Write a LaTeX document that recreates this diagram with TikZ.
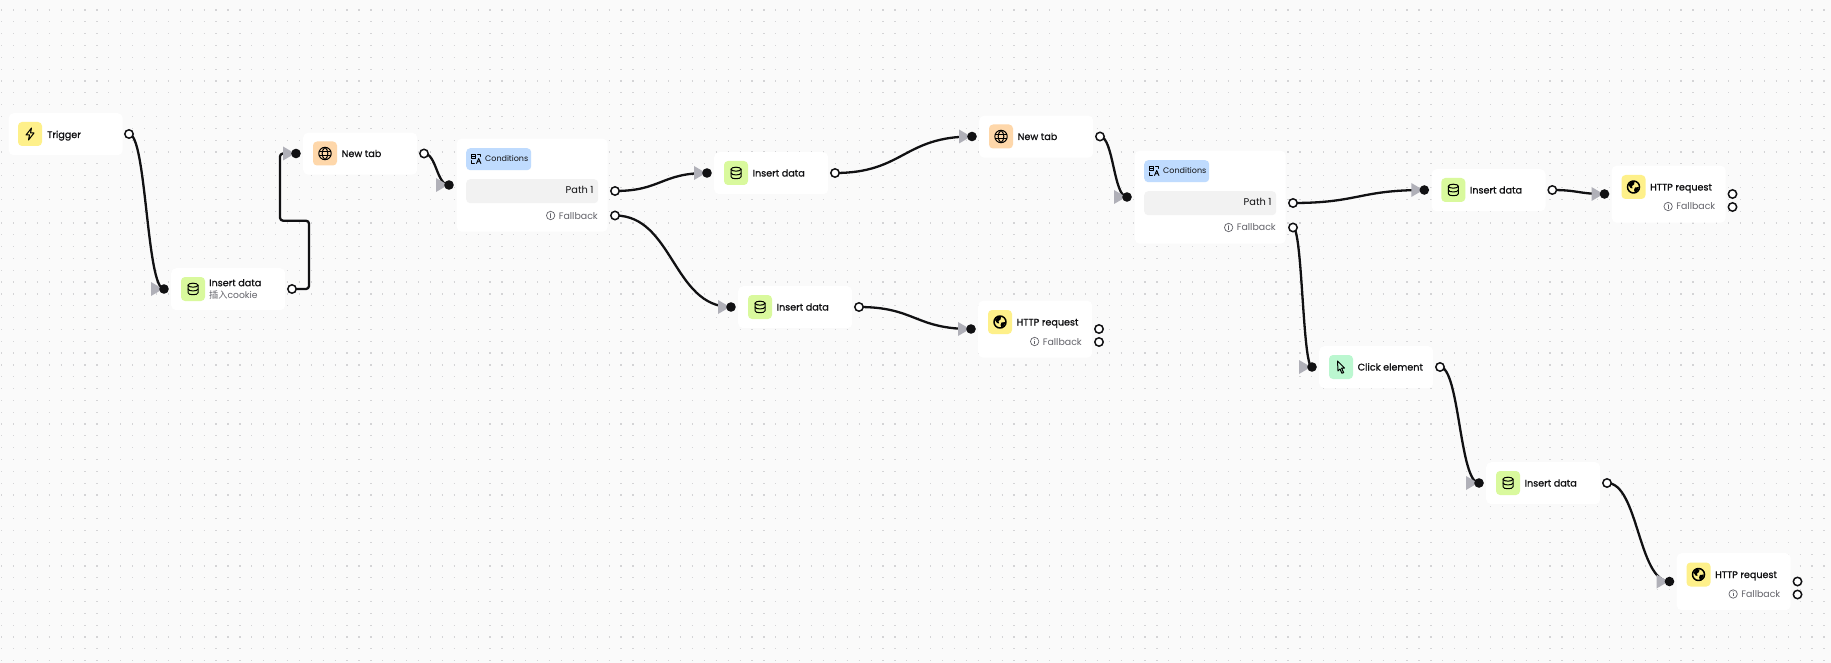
\documentclass[tikz,border=0pt]{standalone}
\usepackage{fontspec}
\usetikzlibrary{calc}
\setmainfont{Poppins}
\newfontfamily\titlefont[FakeBold=0.8]{Poppins}
\newfontfamily\cjk{Noto Sans CJK SC}
\definecolor{canvasbg}{HTML}{FAFAFA}
\definecolor{griddot}{HTML}{D4D4D6}
\definecolor{inktext}{HTML}{111113}
\definecolor{softtext}{HTML}{63636A}
\definecolor{tipgray}{HTML}{B0B0B8}
\definecolor{iconyellow}{HTML}{FEF08A}
\definecolor{icongreen}{HTML}{D9F99D}
\definecolor{iconorange}{HTML}{FED7AA}
\definecolor{iconmint}{HTML}{BBF7D0}
\definecolor{badgeblue}{HTML}{BFDBFE}
\definecolor{rowgray}{HTML}{F2F2F2}
\pgfdeclarelayer{wires}
\pgfdeclarelayer{ports}
\pgfsetlayers{main,wires,ports}
\tikzset{
  x=1pt,y=-1pt,
  card/.style={fill=white,rounded corners=5pt,inner sep=0pt,anchor=north west},
  iconbox/.style={rounded corners=4pt,minimum size=24pt,inner sep=0pt,anchor=center},
  title/.style={font=\fontsize{9.6}{11}\titlefont,text=inktext,inner sep=0pt,anchor=base west},
  subtitle/.style={font=\fontsize{9.2}{11}\selectfont,text=softtext,inner sep=0pt,anchor=base west},
  fallback/.style={font=\fontsize{9.4}{11}\selectfont,text=softtext,inner sep=0pt,anchor=base east},
  wire/.style={draw=inktext,line width=2.3pt,line join=round},
  inport/.style={circle,fill=inktext,minimum size=9.6pt,inner sep=0pt},
  outport/.style={circle,draw=inktext,fill=white,line width=1.5pt,minimum size=8.4pt,inner sep=0pt},
  tip/.style={fill=tipgray},
  griddots/.style={draw=griddot,line width=1.2pt,dash pattern=on 1.2pt off 10.71pt},
  ink/.style={draw=black,line width=1pt,line join=round,line cap=round,fill=none},
  bolticon/.pic={\draw[ink] (1.5,-6)--(-4,1)--(-.5,1)--(-1.5,6)--(4,-1)--(.5,-1)--cycle;},
  dbicon/.pic={
    \draw[ink] (0,-3.8) ellipse (5 and 2);
    \draw[ink] (-5,-3.8)--(-5,3.8) .. controls (-5,6.4) and (5,6.4) .. (5,3.8)--(5,-3.8);
    \draw[ink] (-5,0) .. controls (-5,2.6) and (5,2.6) .. (5,0);},
  globeicon/.pic={
    \draw[ink] (0,0) circle (6.2);
    \draw[ink] (0,-6.2) .. controls (-3.8,-3) and (-3.8,3) .. (0,6.2) .. controls (3.8,3) and (3.8,-3) .. (0,-6.2);
    \draw[ink] (-5.6,-2.2)--(5.6,-2.2) (-5.6,2.2)--(5.6,2.2);},
  webicon/.pic={
    \draw[ink,line width=1.5pt] (0,0) circle (6);
    \fill[black] (-5,-2) -- (-2,-5.5) -- (1,-5) -- (.5,-2.5) -- (-1.5,-1) -- (-1,1.5) -- (-3,1) -- cycle;
    \fill[black] (5.5,0) -- (1.5,.5) -- (.5,3) -- (1.5,5.5) -- (4,3.5) -- cycle;},
  cursoricon/.pic={\draw[ink] (-3.5,-6)--(3.5,1)--(.6,1.2)--(2.6,5.6)--(.8,6.2)--(-1,2)--(-3,4)--cycle;},
  branchicon/.pic={
    \draw[ink,line width=.9pt] (-4.5,-4.5)--(-1,-4.5)--(-1,-.5)--(-4.5,-.5)--cycle (-4.5,-2.5)--(-1,-2.5);
    \draw[ink,line width=.9pt] (.5,4.5)--(2.7,-.5)--(4.9,4.5) (1.2,2.8)--(4.2,2.8);
    \draw[ink,line width=.9pt] (1.5,-4.5)--(4.5,-4.5)--(4.5,-2.5) (-4.5,1.5)--(-4.5,4.5)--(-1.5,4.5);},
  infoicon/.pic={
    \draw[draw=softtext,line width=.7pt,fill=none] (0,0) circle (4.2);
    \draw[draw=softtext,line width=.8pt] (0,-1)--(0,2.2);
    \fill[softtext] (0,-2.2) circle (.5);},
}
\newcommand{\inhandle}[3]{%
  \begin{pgfonlayer}{ports}
    \fill[tip] (#2-13,#3-7)--(#2-1,#3)--(#2-13,#3+7)--cycle;
    \node[inport] (#1-in) at (#2,#3) {};
  \end{pgfonlayer}}
\newcommand{\outhandle}[3]{%
  \begin{pgfonlayer}{ports}
    \node[outport] (#1) at (#2,#3) {};
  \end{pgfonlayer}}
% id, X, Y, icon pic, icon colour, title
\newcommand{\stepcard}[6]{%
  \node[card,minimum width=114pt,minimum height=42pt] (#1) at (#2+7,#3-21) {};
  \node[iconbox,fill=#5] (#1-icon) at (#2+29,#3) {};
  \pic at (#1-icon.center) {#4};
  \node[title] (#1-title) at (#2+45.5,#3+3.5) {#6};
  \inhandle{#1}{#2}{#3}
  \outhandle{#1-out}{#2+128}{#3}}
\newcommand{\httpcard}[3]{%
  \node[card,minimum width=114pt,minimum height=57pt] (#1) at (#2+7,#3-28.5) {};
  \node[iconbox,fill=iconyellow] (#1-icon) at (#2+29,#3-7) {};
  \pic at (#1-icon.center) {webicon};
  \node[title] (#1-title) at (#2+45.5,#3-3.5) {HTTP request};
  \node[fallback] (#1-fb) at (#2+111,#3+16) {Fallback};
  \pic at ($(#1-fb.base west)+(-8,-3.5)$) {infoicon};
  \inhandle{#1}{#2}{#3}
  \outhandle{#1-out}{#2+128}{#3}
  \outhandle{#1-alt}{#2+128}{#3+13}}
\newcommand{\condcard}[3]{%
  \node[card,minimum width=151pt,minimum height=93pt] (#1) at (#2+7.5,#3-46.5) {};
  \node[fill=badgeblue,rounded corners=4pt,minimum width=65pt,minimum height=22pt,inner sep=0pt,anchor=north west] (#1-badge) at (#2+17,#3-37) {};
  \pic at (#2+27,#3-26) {branchicon};
  \node[inner sep=0pt,anchor=base west,font=\fontsize{8}{10}\selectfont,text=inktext] (#1-badgetext) at (#2+36,#3-23.5) {Conditions};
  \node[fill=rowgray,rounded corners=4pt,minimum width=132pt,minimum height=24pt,inner sep=0pt,anchor=north west] (#1-row) at (#2+17,#3-6) {};
  \node[inner sep=0pt,anchor=base east,font=\fontsize{9.8}{11}\selectfont,text=inktext] (#1-path) at (#2+144.8,#3+9) {Path 1};
  \node[fallback] (#1-fb) at (#2+149,#3+34) {Fallback};
  \pic at ($(#1-fb.base west)+(-8,-3.5)$) {infoicon};
  \inhandle{#1}{#2}{#3}
  \outhandle{#1-out}{#2+166}{#3+6}
  \outhandle{#1-alt}{#2+166}{#3+30.5}}
\newcommand{\flow}[2]{%
  \begin{pgfonlayer}{wires}
    \draw[wire] let \p1=(#1.center),\p2=(#2.center) in
      (\p1) .. controls ({(\x1+\x2)/2},\y1) and ({(\x1+\x2)/2},\y2) .. (\p2);
  \end{pgfonlayer}}
\begin{document}
\begin{tikzpicture}
\useasboundingbox (0,0) rectangle (1831,663);
\fill[canvasbg] (0,0) rectangle (1831,663);
\foreach \j in {0,...,55}{\draw[griddots] (1.1,{10+\j*11.83}) -- (1831,{10+\j*11.83});}

\node[card,minimum width=114pt,minimum height=42pt] (trigger) at (8.5,113) {};
\node[iconbox,fill=iconyellow] (trigger-icon) at (30,134) {};
\pic at (trigger-icon.center) {bolticon};
\node[title] (trigger-title) at (47,138) {Trigger};
\outhandle{trigger-out}{129}{134}

\node[card,minimum width=114pt,minimum height=42pt] (cookie) at (171,268) {};
\node[iconbox,fill=icongreen] (cookie-icon) at (193,289) {};
\pic at (cookie-icon.center) {dbicon};
\node[title] (cookie-title) at (209,286.2) {Insert data};
\node[subtitle] (cookie-sub) at (209,298.2) {{\cjk 插入}cookie};
\inhandle{cookie}{164}{289}
\outhandle{cookie-out}{292}{289}

\stepcard{tabone}{296}{153.5}{globeicon}{iconorange}{New tab}
\condcard{condone}{449}{185}
\stepcard{insone}{707}{173}{dbicon}{icongreen}{Insert data}
\stepcard{instwo}{731}{307}{dbicon}{icongreen}{Insert data}
\httpcard{httpone}{971}{329}
\stepcard{tabtwo}{972}{136.5}{globeicon}{iconorange}{New tab}
\condcard{condtwo}{1127}{197}
\stepcard{insthree}{1424.3}{190}{dbicon}{icongreen}{Insert data}
\httpcard{httptwo}{1604.5}{194}
\stepcard{click}{1312}{367}{cursoricon}{iconmint}{Click element}
\stepcard{insfour}{1479}{483}{dbicon}{icongreen}{Insert data}
\httpcard{httpthree}{1669.5}{581.5}

\flow{trigger-out}{cookie-in}
\begin{pgfonlayer}{wires}
\coordinate (elbowa) at (309,220.7);
\coordinate (elbowb) at (280,220.7);
\draw[wire,rounded corners=3pt] (cookie-out.center) -| (elbowa) -- (elbowb) |- (tabone-in.center);
\end{pgfonlayer}
\flow{tabone-out}{condone-in}
\flow{condone-out}{insone-in}
\flow{condone-alt}{instwo-in}
\flow{insone-out}{tabtwo-in}
\flow{instwo-out}{httpone-in}
\flow{tabtwo-out}{condtwo-in}
\flow{condtwo-out}{insthree-in}
\flow{condtwo-alt}{click-in}
\flow{insthree-out}{httptwo-in}
\flow{click-out}{insfour-in}
\flow{insfour-out}{httpthree-in}
\end{tikzpicture}
\end{document}
